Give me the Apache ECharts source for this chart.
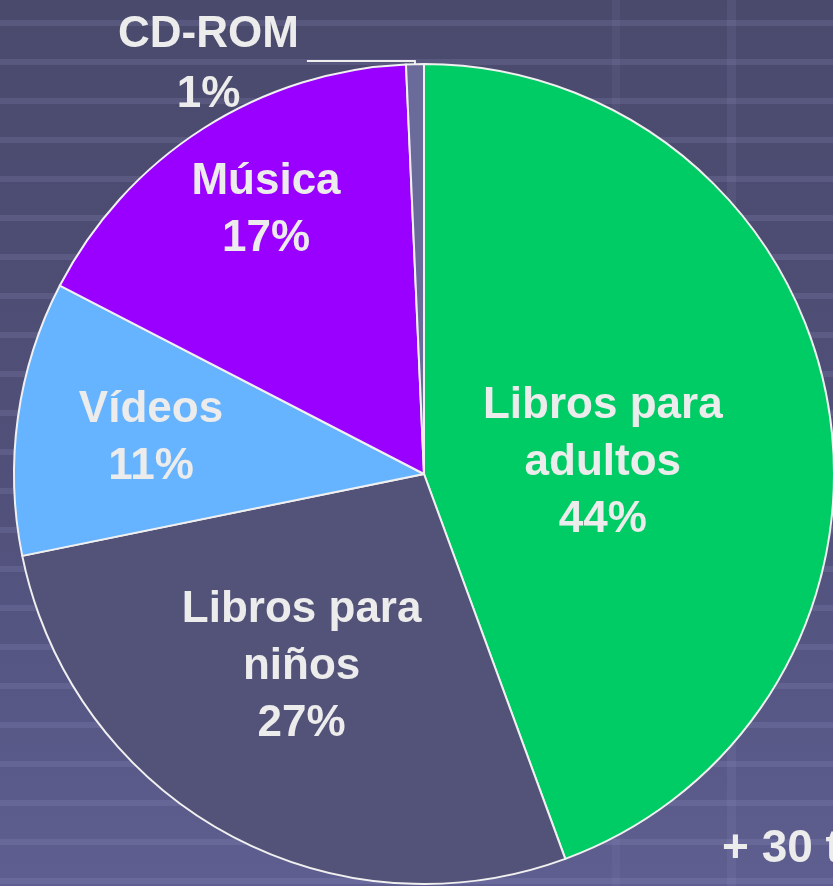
<!DOCTYPE html>
<html>
<head>
<meta charset="utf-8">
<script src="https://cdn.jsdelivr.net/npm/echarts@6/dist/echarts.min.js"></script>
<style>
  *{margin: 0; padding: 0;}
  html,body{width: 100%; height: 100%; overflow: hidden;}
  #chart{
    width: 833px; height: 886px;
    background:
      linear-gradient(to right, transparent 0 727px, rgba(160,160,210,0.10) 727px 736px, transparent 736px),
      linear-gradient(to right, transparent 0 612px, rgba(160,160,210,0.08) 612px 620px, transparent 620px),
      repeating-linear-gradient(to bottom, transparent 0 20px, rgba(160,160,210,0.16) 20px 26px, transparent 26px 39px),
      linear-gradient(to bottom, #4a4a6d 0%, #50507a 55%, #5e5e90 100%);
  }
</style>
</head>
<body>
<div id="chart"></div>
<script>
// datos
var categories = ['Libros para adultos', 'Libros para niños', 'Vídeos', 'Música', 'CD-ROM']
var labelNames = ['Libros para\nadultos', 'Libros para\nniños', 'Vídeos', 'Música', 'CD-ROM']
var shares = [44.4, 27.4, 10.8, 16.7, 0.7]
var footNote = '+ 30 t'

var colors = ['#00cc66', '#535379', '#66b3ff', '#9900ff', '#6b6b9b']
// desplazamiento de las etiquetas (estilo)
var labelOffsets = [[-26, 25], [-21, 11], [-67, -7], [-46, -88], [-3, 4]]

var chart = echarts.init(document.getElementById('chart'))
var font = '"Liberation Sans", Arial, sans-serif'

var data = categories.map(function(name, i) {
  var item = {
    name: name,
    value: shares[i],
    itemStyle: { color: colors[i] },
    label: { offset: labelOffsets[i] }
  }
  if (i === 4) {
    item.label = {
      position: 'outside',
      offset: labelOffsets[i],
      formatter: function(p) {
        return '{c|' + labelNames[p.dataIndex] + '}\n{c|' + Math.round(p.percent) + '%}'
      },
      rich: {
        c: { align: 'center', color: '#ececec', fontSize: 44, fontWeight: 'bold', fontFamily: font, lineHeight: 60 }
      }
    }
    item.labelLine = {
      show: true,
      length: 3,
      length2: 108,
      smooth: false,
      lineStyle: { color: '#eeeeee', width: 2 }
    }
  }
  return item
})

var options = {
  animation: false,
  backgroundColor: 'transparent',
  graphic: [
    {
      type: 'text',
      left: 722,
      top: 826,
      style: {
        text: footNote,
        fill: '#ececec',
        font: 'bold 46px ' + font
      }
    }
  ],
  series: [
    {
      type: 'pie',
      center: [424, 474],
      radius: 410,
      startAngle: 90,
      clockwise: true,
      avoidLabelOverlap: false,
      emphasis: { disabled: true },
      itemStyle: {
        borderColor: '#f0f0f0',
        borderWidth: 2
      },
      label: {
        show: true,
        position: 'inside',
        rotate: 0,
        color: '#ececec',
        fontSize: 44,
        fontWeight: 'bold',
        fontFamily: font,
        lineHeight: 57,
        align: 'center',
        formatter: function(p) {
          return labelNames[p.dataIndex] + '\n' + Math.round(p.percent) + '%'
        }
      },
      labelLine: { show: false },
      data: data
    }
  ]
}
chart.setOption(options)
</script>
</body>
</html>
